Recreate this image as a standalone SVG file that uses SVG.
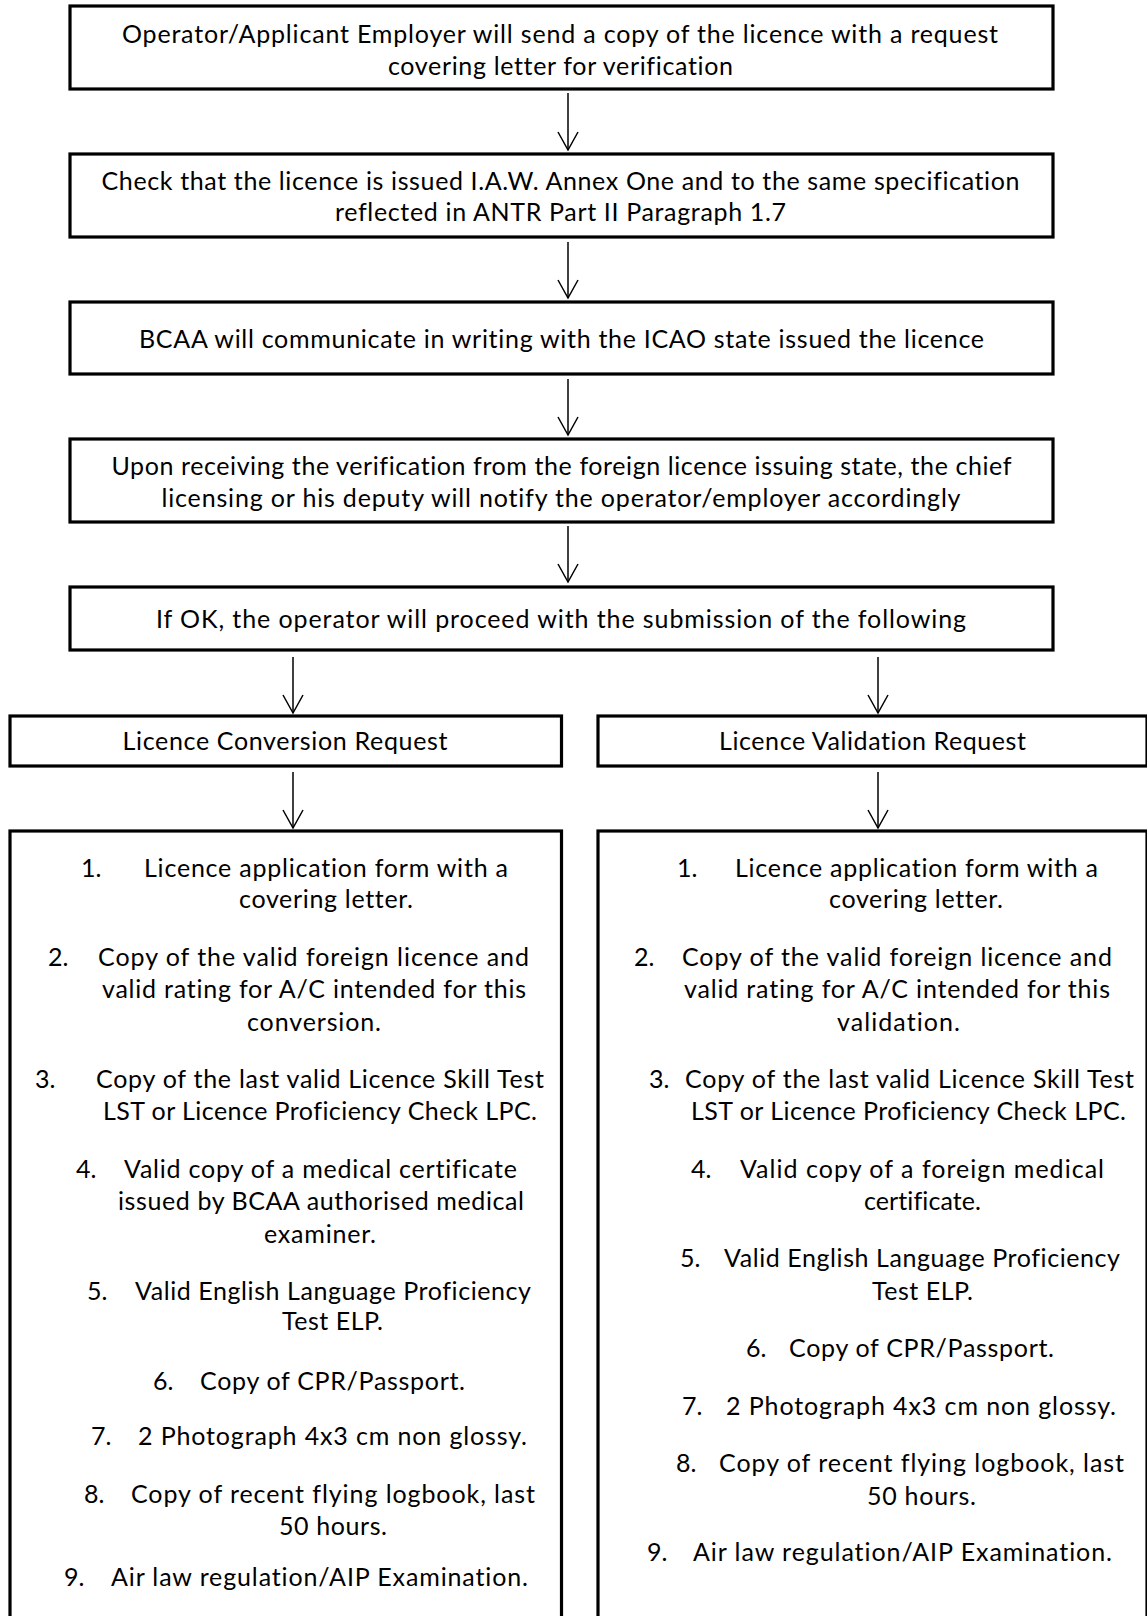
<svg xmlns="http://www.w3.org/2000/svg" width="1147" height="1616" viewBox="0 0 1147 1616">
<defs>
<style>
.box{fill:#fff;stroke:#000;stroke-width:3.2}
text{font-family:Lato,"Open Sans","Liberation Sans",sans-serif;font-size:25px;fill:#000;font-variant-ligatures:none}
.c{text-anchor:middle}
.conn line{stroke:#000;stroke-width:1.5;marker-end:url(#ah)}
</style>
<marker id="ah" markerUnits="userSpaceOnUse" viewBox="-20 -12 22 24" markerWidth="22" markerHeight="24" refX="0" refY="0" orient="auto" overflow="visible">
<path d="M-18,-10 L0,0 L-18,10" fill="none" stroke="#000" stroke-width="1.5"/>
</marker>
</defs>
<rect width="1147" height="1616" fill="#fff"/>

<g id="connectors" class="conn">
<line x1="568" y1="93" x2="568" y2="150"/>
<line x1="568" y1="242" x2="568" y2="298"/>
<line x1="568" y1="379" x2="568" y2="435"/>
<line x1="568" y1="526" x2="568" y2="582"/>
<line x1="293" y1="657" x2="293" y2="713"/>
<line x1="878" y1="657" x2="878" y2="713"/>
<line x1="293" y1="772" x2="293" y2="828"/>
<line x1="878" y1="772" x2="878" y2="828"/>
</g>

<g id="n1">
<rect class="box" x="70" y="6" width="983" height="83"/>
<text class="c" x="560" y="43" textLength="876">Operator/Applicant Employer will send a copy of the licence with a request</text>
<text class="c" x="560.5" y="75" textLength="345">covering letter for verification</text>
</g>

<g id="n2">
<rect class="box" x="70" y="154" width="983" height="83"/>
<text class="c" x="560.5" y="190" textLength="918">Check that the licence is issued I.A.W. Annex One and to the same specification</text>
<text class="c" x="560.5" y="221" textLength="451">reflected in ANTR Part II Paragraph 1.7</text>
</g>

<g id="n3">
<rect class="box" x="70" y="302" width="983" height="72"/>
<text class="c" x="561.5" y="348" textLength="845">BCAA will communicate in writing with the ICAO state issued the licence</text>
</g>

<g id="n4">
<rect class="box" x="70" y="439" width="983" height="83"/>
<text class="c" x="561.5" y="475" textLength="900">Upon receiving the verification from the foreign licence issuing state, the chief</text>
<text class="c" x="561" y="507" textLength="799">licensing or his deputy will notify the operator/employer accordingly</text>
</g>

<g id="n5">
<rect class="box" x="70" y="587" width="983" height="63"/>
<text class="c" x="561" y="628" textLength="810">If OK, the operator will proceed with the submission of the following</text>
</g>

<g id="n6">
<rect class="box" x="10" y="716" width="551.5" height="50"/>
<text class="c" x="285" y="750" textLength="325">Licence Conversion Request</text>
</g>

<g id="n7">
<rect class="box" x="598" y="716" width="549" height="50"/>
<text class="c" x="872.5" y="750" textLength="307">Licence Validation Request</text>
</g>

<g id="n8">
<rect class="box" x="10" y="831" width="551.5" height="820"/>
<text x="81" y="877">1.</text>
<text class="c" x="326" y="877" textLength="364">Licence application form with a</text>
<text class="c" x="326" y="908" textLength="174">covering letter.</text>
<text x="48" y="966">2.</text>
<text class="c" x="313.5" y="966" textLength="431">Copy of the valid foreign licence and</text>
<text class="c" x="314" y="998" textLength="424">valid rating for A/C intended for this</text>
<text class="c" x="314" y="1031" textLength="134">conversion.</text>
<text x="35" y="1088">3.</text>
<text class="c" x="320" y="1088" textLength="448">Copy of the last valid Licence Skill Test</text>
<text class="c" x="320" y="1120" textLength="434">LST or Licence Proficiency Check LPC.</text>
<text x="76" y="1178">4.</text>
<text class="c" x="320.5" y="1178" textLength="393">Valid copy of a medical certificate</text>
<text class="c" x="321" y="1210" textLength="406">issued by BCAA authorised medical</text>
<text class="c" x="320" y="1243" textLength="112">examiner.</text>
<text x="87" y="1300">5.</text>
<text class="c" x="333" y="1300" textLength="396">Valid English Language Proficiency</text>
<text class="c" x="332.5" y="1330" textLength="101">Test ELP.</text>
<text x="153" y="1390">6.</text>
<text class="c" x="332.5" y="1390" textLength="265">Copy of CPR/Passport.</text>
<text x="91" y="1445">7.</text>
<text class="c" x="332.5" y="1445" textLength="389">2 Photograph 4x3 cm non glossy.</text>
<text x="84" y="1503">8.</text>
<text class="c" x="333" y="1503" textLength="404">Copy of recent flying logbook, last</text>
<text class="c" x="333" y="1535" textLength="108">50 hours.</text>
<text x="64" y="1586">9.</text>
<text class="c" x="319.5" y="1586" textLength="417">Air law regulation/AIP Examination.</text>
</g>

<g id="n9">
<rect class="box" x="598" y="831" width="549" height="820"/>
<text x="677" y="877">1.</text>
<text class="c" x="916.5" y="877" textLength="363">Licence application form with a</text>
<text class="c" x="916" y="908" textLength="174">covering letter.</text>
<text x="634" y="966">2.</text>
<text class="c" x="897" y="966" textLength="430">Copy of the valid foreign licence and</text>
<text class="c" x="897" y="998" textLength="426">valid rating for A/C intended for this</text>
<text class="c" x="898.5" y="1031" textLength="123">validation.</text>
<text x="649" y="1088">3.</text>
<text class="c" x="909.5" y="1088" textLength="449">Copy of the last valid Licence Skill Test</text>
<text class="c" x="908.5" y="1120" textLength="435">LST or Licence Proficiency Check LPC.</text>
<text x="691" y="1178">4.</text>
<text class="c" x="922" y="1178" textLength="364">Valid copy of a foreign medical</text>
<text class="c" x="922.5" y="1210" textLength="117">certificate.</text>
<text x="680" y="1267">5.</text>
<text class="c" x="922" y="1267" textLength="396">Valid English Language Proficiency</text>
<text class="c" x="922.5" y="1300" textLength="101">Test ELP.</text>
<text x="746" y="1357">6.</text>
<text class="c" x="921.5" y="1357" textLength="265">Copy of CPR/Passport.</text>
<text x="682" y="1415">7.</text>
<text class="c" x="921" y="1415" textLength="390">2 Photograph 4x3 cm non glossy.</text>
<text x="676" y="1472">8.</text>
<text class="c" x="921.5" y="1472" textLength="405">Copy of recent flying logbook, last</text>
<text class="c" x="921.5" y="1505" textLength="109">50 hours.</text>
<text x="647" y="1561">9.</text>
<text class="c" x="902.5" y="1561" textLength="419">Air law regulation/AIP Examination.</text>
</g>
</svg>
